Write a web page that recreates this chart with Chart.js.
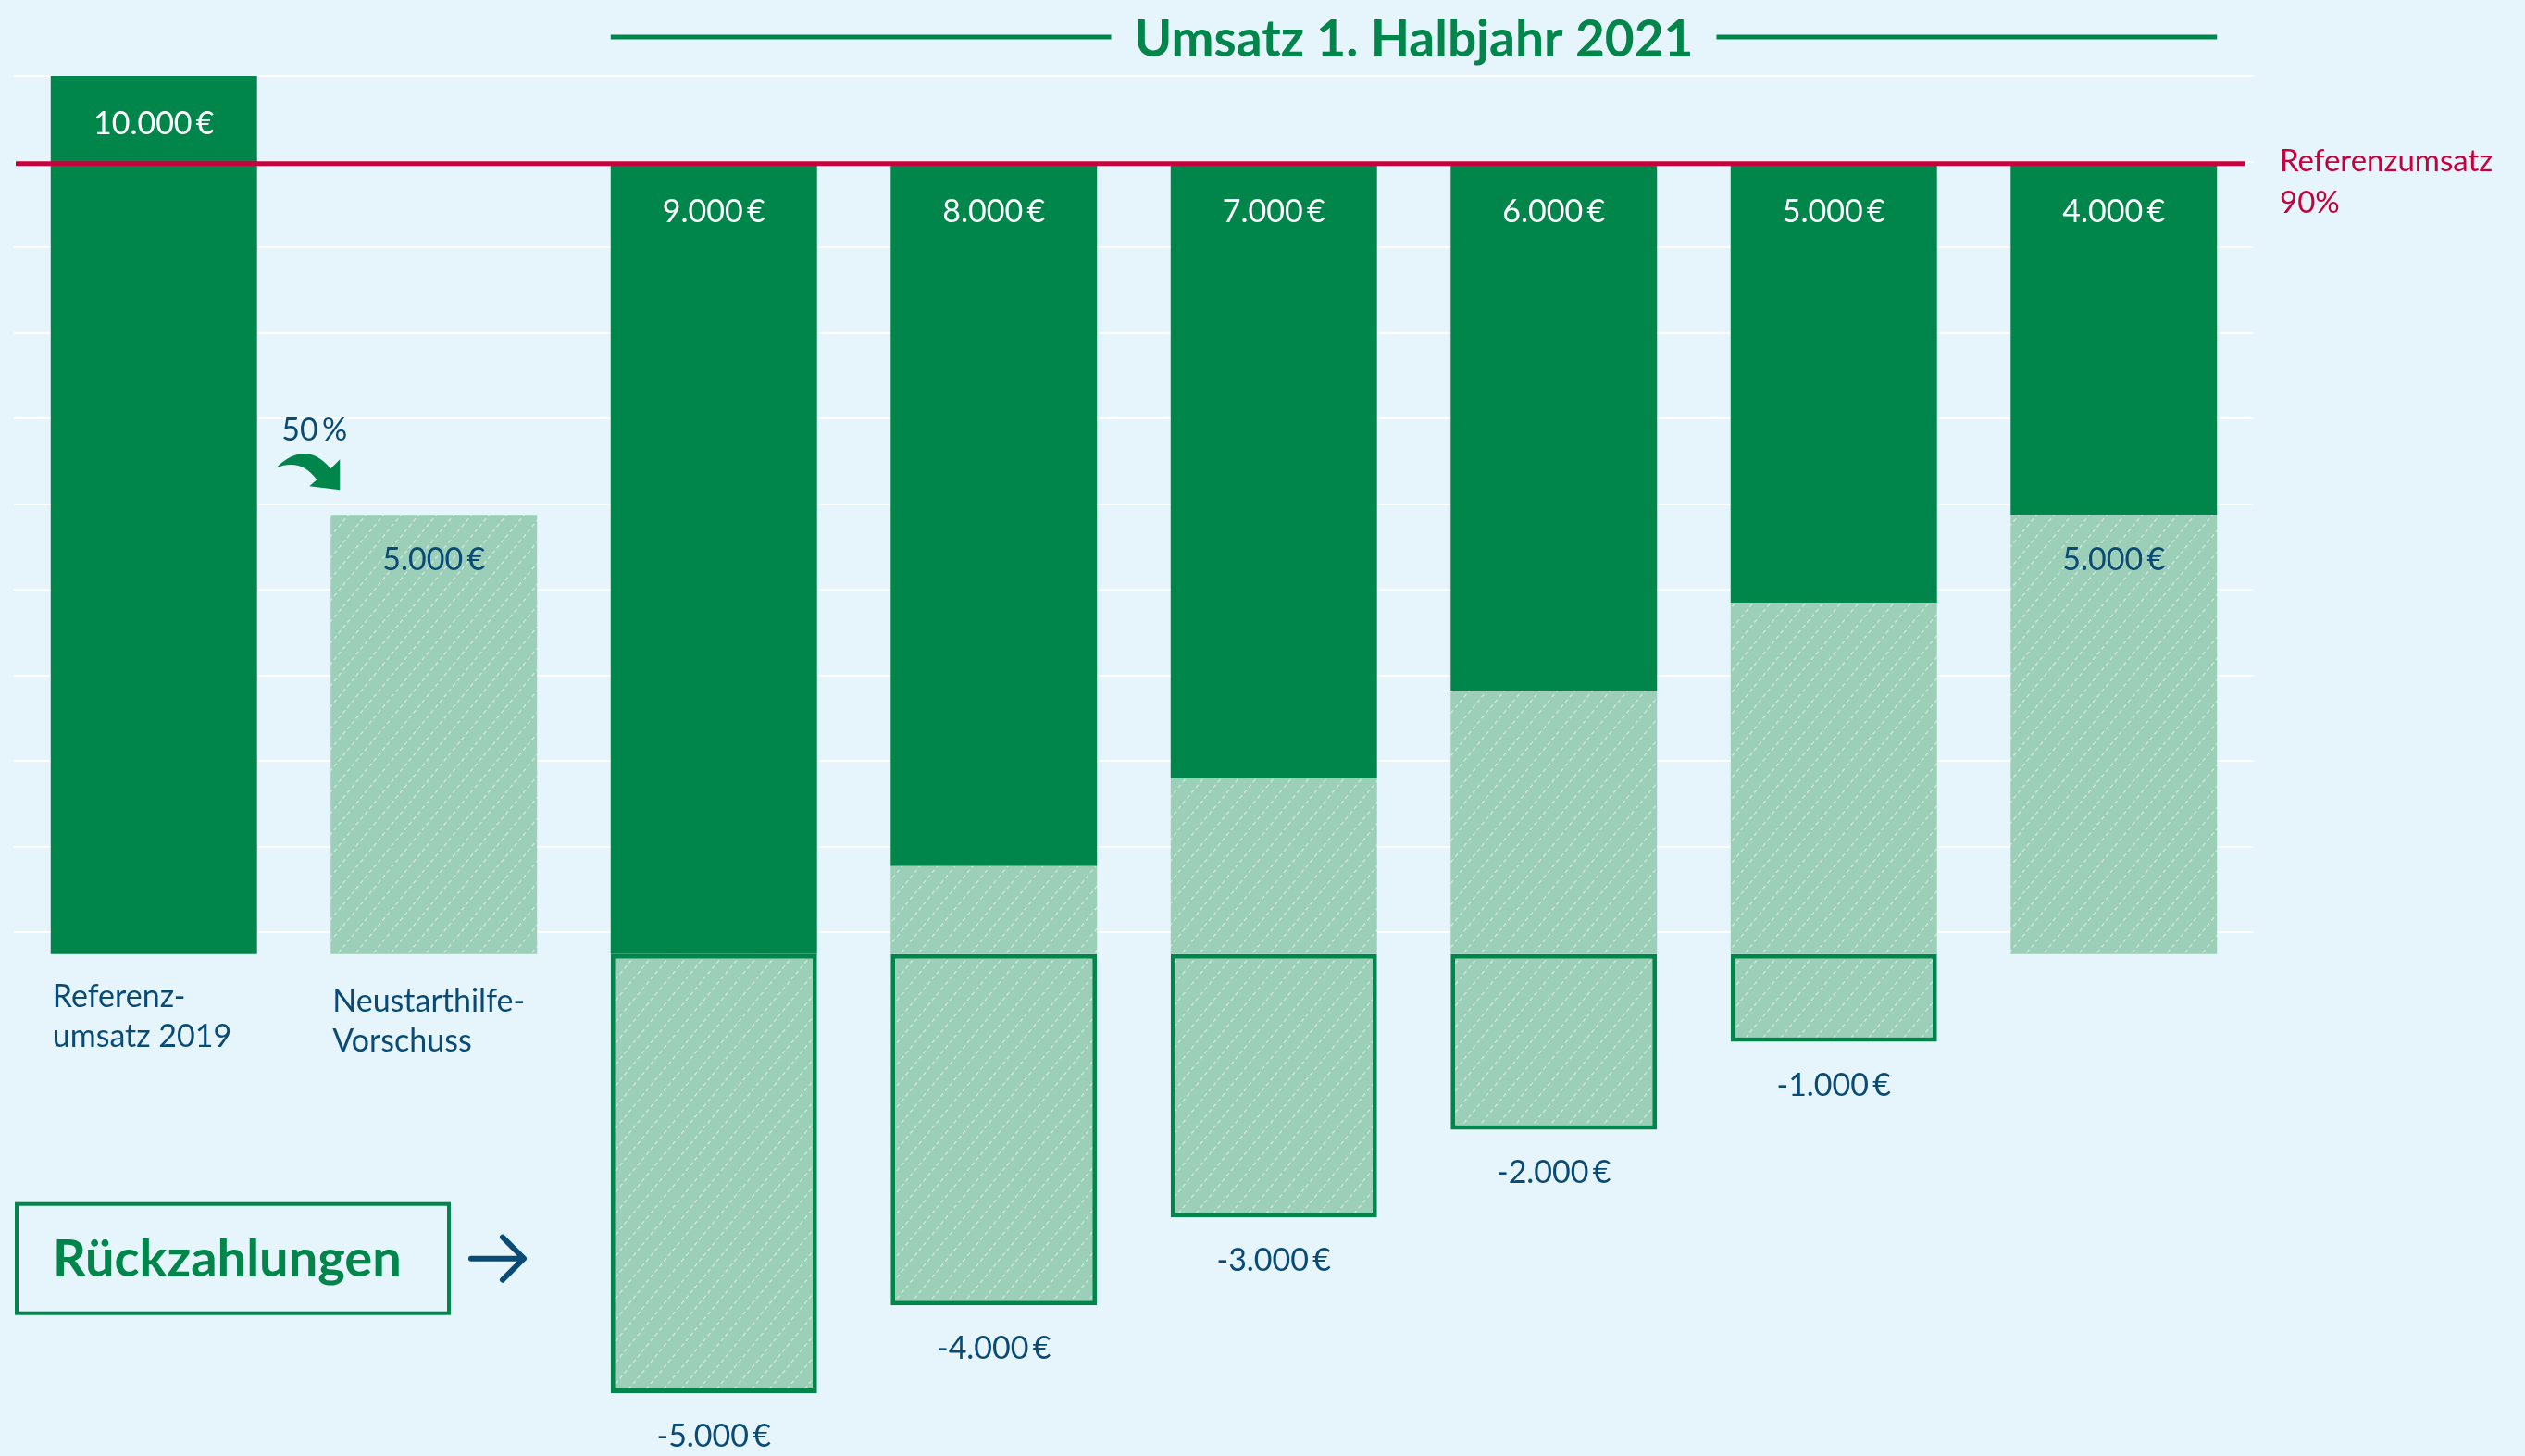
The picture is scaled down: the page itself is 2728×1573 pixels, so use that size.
<!DOCTYPE html>
<html lang="de">
<head>
<meta charset="utf-8">
<title>Neustarthilfe – Umsatz 1. Halbjahr 2021</title>
<script src="https://cdn.jsdelivr.net/npm/chart.js@4.4.1/dist/chart.umd.min.js"></script>
<style>
  html, body { margin: 0; padding: 0; background: #e6f4fb; }
  #wrap { position: relative; width: 2728px; height: 1573px; }
</style>
</head>
<body>
<div id="wrap"><canvas id="neustarthilfeChart"></canvas></div>
<script>
// Werte
const kategorien = [["Referenz-", "umsatz 2019"], ["Neustarthilfe-", "Vorschuss"], "", "", "", "", "", ""];
const umsatz = [10000, null, 9000, 8000, 7000, 6000, 5000, 4000];
const vorschuss = [null, 5000, 0, 1000, 2000, 3000, 4000, 5000];
const rueckzahlung = [null, null, -5000, -4000, -3000, -2000, -1000, 0];
const referenzumsatz90 = 9000;
const titel = "Umsatz 1. Halbjahr 2021";

const gruen = "#00854a";
const hellgruen = "#9bcfb7";
const blau = "#0a4b76";
const rot = "#c6003d";
const schrift = 'Lato, "Noto Sans", sans-serif';

const euro = (v) => v.toLocaleString("de-DE") + "\u2009€";

// schraffur fuer die hellen balken
function schraffur() {
  const w = 19, h = 23;
  const tile = document.createElement("canvas");
  tile.width = w;
  tile.height = h;
  const c = tile.getContext("2d");
  c.fillStyle = hellgruen;
  c.fillRect(0, 0, w, h);
  c.strokeStyle = "rgba(255,255,255,0.5)";
  c.lineWidth = 1.3;
  const len = Math.hypot(w, h);
  c.setLineDash([len / 4 * 0.56, len / 4 * 0.44]);
  for (const dx of [-w, 0, w]) {
    c.beginPath();
    c.moveTo(dx, h);
    c.lineTo(dx + w, 0);
    c.stroke();
  }
  return c.createPattern(tile, "repeat");
}
const muster = schraffur();

const beschriftung = {
  id: "beschriftung",
  afterDatasetsDraw(chart) {
    const { ctx, chartArea, scales: { y } } = chart;
    const mVor = chart.getDatasetMeta(0);
    const mUms = chart.getDatasetMeta(1);
    const mRueck = chart.getDatasetMeta(2);
    const y0 = y.getPixelForValue(0);
    ctx.save();

    // Referenzlinie 90 %
    const yRef = y.getPixelForValue(referenzumsatz90);
    ctx.strokeStyle = rot;
    ctx.lineWidth = 5;
    ctx.beginPath();
    ctx.moveTo(chartArea.left + 2, yRef);
    ctx.lineTo(chartArea.right - 10, yRef);
    ctx.stroke();
    ctx.fillStyle = rot;
    ctx.font = `33px ${schrift}`;
    ctx.textAlign = "left";
    ctx.textBaseline = "alphabetic";
    ctx.fillText("Referenzumsatz", chartArea.right + 28, yRef + 8);
    ctx.fillText("90%", chartArea.right + 28, yRef + 53);

    // Balkenwerte
    ctx.font = `34px ${schrift}`;
    ctx.textAlign = "center";
    umsatz.forEach((v, i) => {
      if (!v) return;
      const bar = mUms.data[i];
      ctx.fillStyle = "#ffffff";
      ctx.fillText(euro(v), bar.x, bar.y + 63);
    });
    const vorschussBetrag = vorschuss[1];
    vorschuss.forEach((v, i) => {
      if (v !== vorschussBetrag) return;
      const bar = mVor.data[i];
      ctx.fillStyle = blau;
      ctx.fillText(euro(v), bar.x, bar.y + 60);
    });
    rueckzahlung.forEach((v, i) => {
      if (!(v < 0)) return;
      const bar = mRueck.data[i];
      ctx.fillStyle = blau;
      ctx.fillText(euro(v), bar.x, bar.y + 58);
    });

    // Kategorien unter der Nulllinie
    ctx.textAlign = "left";
    ctx.fillStyle = blau;
    kategorien.forEach((k, i) => {
      if (!Array.isArray(k)) return;
      const bar = mUms.data[i];
      const left = bar.x - bar.width / 2 + 2;
      const dy = i === 0 ? 0 : 5;
      ctx.fillText(k[0], left, y0 + 57 + dy);
      ctx.fillText(k[1], left, y0 + 100 + dy);
    });

    // Titel ueber den Monatsbalken
    const links = mUms.data[2].x - mUms.data[2].width / 2;
    const rechts = mUms.data[7].x + mUms.data[7].width / 2;
    const mitte = (links + rechts) / 2;
    ctx.font = `bold 55px ${schrift}`;
    const tw = ctx.measureText(titel).width;
    ctx.fillStyle = gruen;
    ctx.textAlign = "center";
    ctx.fillText(titel, mitte, chartArea.top - 21);
    ctx.strokeStyle = gruen;
    ctx.lineWidth = 5;
    ctx.beginPath();
    ctx.moveTo(links, chartArea.top - 42);
    ctx.lineTo(mitte - tw / 2 - 25, chartArea.top - 42);
    ctx.moveTo(mitte + tw / 2 + 25, chartArea.top - 42);
    ctx.lineTo(rechts, chartArea.top - 42);
    ctx.stroke();

    // 50 % Pfeil
    const vb = mVor.data[1];
    const bl = vb.x - vb.width / 2;
    const bt = vb.y;
    ctx.fillStyle = blau;
    ctx.textAlign = "left";
    ctx.font = `34px ${schrift}`;
    ctx.fillText("50\u2009%", bl - 53, bt - 80);
    ctx.fillStyle = gruen;
    ctx.beginPath();
    ctx.moveTo(bl - 59, bt - 51);
    ctx.quadraticCurveTo(bl - 27, bt - 82, bl, bt - 50);
    ctx.lineTo(bl + 10, bt - 60);
    ctx.lineTo(bl + 10, bt - 27);
    ctx.lineTo(bl - 23, bt - 31);
    ctx.lineTo(bl - 15, bt - 38);
    ctx.quadraticCurveTo(bl - 32, bt - 62, bl - 59, bt - 51);
    ctx.closePath();
    ctx.fill();

    // Rueckzahlungen-Kasten
    const kl = chartArea.left;
    ctx.strokeStyle = gruen;
    ctx.lineWidth = 4;
    ctx.strokeRect(kl + 3, y0 + 270, 467, 118);
    ctx.fillStyle = gruen;
    ctx.font = `bold 56px ${schrift}`;
    ctx.fillText("Rückzahlungen", kl + 42, y0 + 348);
    ctx.strokeStyle = blau;
    ctx.lineWidth = 6;
    ctx.lineCap = "round";
    ctx.lineJoin = "round";
    ctx.beginPath();
    ctx.moveTo(kl + 494, y0 + 329);
    ctx.lineTo(kl + 551, y0 + 329);
    ctx.moveTo(kl + 528, y0 + 306);
    ctx.lineTo(kl + 551, y0 + 329);
    ctx.lineTo(kl + 528, y0 + 352);
    ctx.stroke();

    ctx.restore();
  }
};

function createNeustarthilfeChart() {
  const data = {
    labels: kategorien,
    datasets: [
      {
        label: "Vorschuss",
        data: vorschuss,
        backgroundColor: muster,
        borderWidth: 0,
      },
      {
        label: "Umsatz",
        data: umsatz,
        backgroundColor: gruen,
        borderWidth: 0,
      },
      {
        label: "Rückzahlung",
        data: rueckzahlung,
        backgroundColor: muster,
        borderColor: gruen,
        borderWidth: 5,
        borderSkipped: false,
      },
    ],
  };

  const config = {
    type: "bar",
    data: data,
    options: {
      responsive: true,
      maintainAspectRatio: false,
      animation: false,
      events: [],
      datasets: {
        bar: { barPercentage: 0.737, categoryPercentage: 1 },
      },
      layout: { padding: { left: 15, right: 293, top: 82, bottom: 11 } },
      scales: {
        x: { stacked: true, display: false },
        y: {
          stacked: true,
          min: -5600,
          max: 10000,
          ticks: { display: false, stepSize: 1000 },
          border: { display: false },
          grid: {
            drawTicks: false,
            color: (c) => c.tick.value === 0 ? "#c3d3dd" : (c.tick.value > 0 ? "#ffffff" : "rgba(0,0,0,0)"),
            lineWidth: (c) => c.tick.value === 0 ? 3 : 2,
          },
        },
      },
      plugins: {
        legend: false,
        tooltip: { enabled: false },
      },
    },
    plugins: [beschriftung],
  };

  const ctx = document.getElementById("neustarthilfeChart");
  new Chart(ctx, config);
}

document.addEventListener("DOMContentLoaded", () => {
  createNeustarthilfeChart();
});
</script>
</body>
</html>
